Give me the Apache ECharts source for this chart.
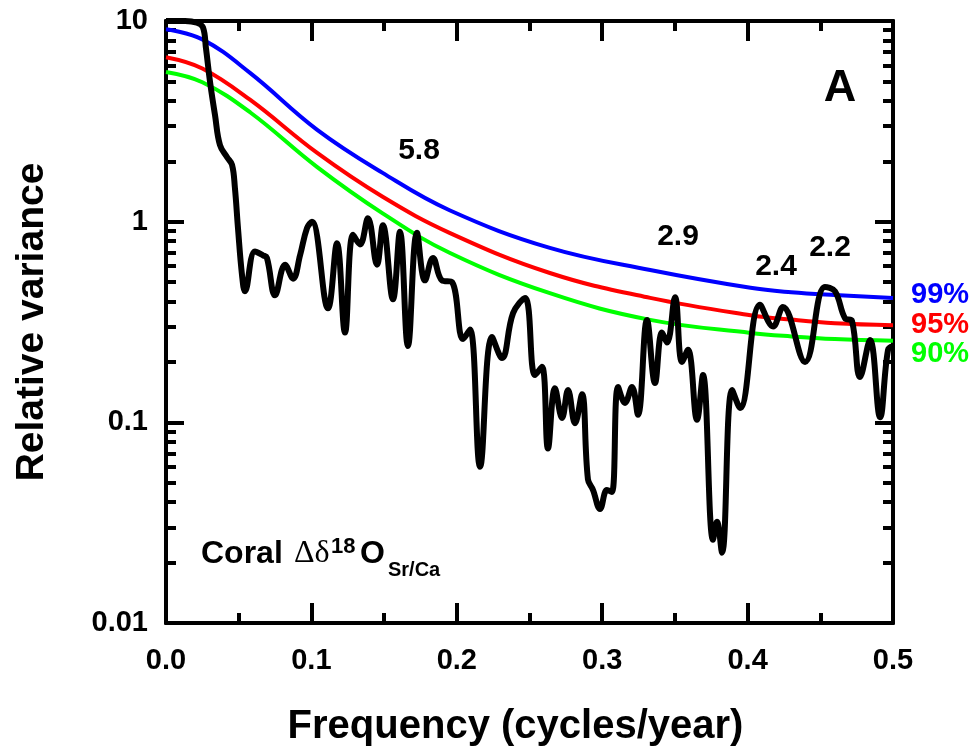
<!DOCTYPE html>
<html>
<head>
<meta charset="utf-8">
<script src="https://cdn.jsdelivr.net/npm/echarts@6.0.0/dist/echarts.min.js"></script>
<style>
    html, body { margin: 0; padding: 0; background: #fff; }
    #chart { width: 979px; height: 756px; }
</style>
</head>
<body>
<div id="chart"></div>
<script>
// spectrum of coral d18O (Sr/Ca residual)
var specFreq = [0, 0.0131, 0.0213, 0.0254, 0.0275, 0.0303, 0.0337, 0.0371, 0.0419, 0.0454,
    0.0474, 0.0495, 0.0523, 0.0543, 0.0612, 0.0667, 0.0694, 0.0750, 0.0819, 0.0874,
    0.0922, 0.0970, 0.1004, 0.1114, 0.1176, 0.1231, 0.1286, 0.1334, 0.1389, 0.1451,
    0.1492, 0.1561, 0.1609, 0.1664, 0.1726, 0.1781, 0.1836, 0.1898, 0.1967, 0.2043,
    0.2091, 0.2160, 0.2242, 0.2311, 0.2387, 0.2469, 0.2538, 0.2586, 0.2627, 0.2675,
    0.2724, 0.2765, 0.2813, 0.2861, 0.2902, 0.2937, 0.2985, 0.3033, 0.3067, 0.3109,
    0.3157, 0.3205, 0.3246, 0.3308, 0.3363, 0.3411, 0.3446, 0.3501, 0.3549, 0.3590,
    0.3652, 0.3693, 0.3762, 0.3789, 0.3824, 0.3893, 0.3948, 0.4085, 0.4175, 0.4243,
    0.4395, 0.4532, 0.4601, 0.4670, 0.4718, 0.4773, 0.4842, 0.4911, 0.4966, 0.5];
var specVar = [10, 10, 9.8, 9.3, 7.3, 4.96, 3.4, 2.41, 2.1, 1.92,
    1.47, 0.93, 0.54, 0.45, 0.71, 0.68, 0.66, 0.43, 0.61, 0.52,
    0.68, 0.93, 1.0, 0.37, 0.78, 0.28, 0.86, 0.77, 1.04, 0.61,
    0.96, 0.41, 0.89, 0.24, 0.88, 0.51, 0.66, 0.51, 0.50, 0.26,
    0.29, 0.060, 0.266, 0.209, 0.35, 0.417, 0.172, 0.189, 0.074, 0.148,
    0.105, 0.145, 0.099, 0.138, 0.052, 0.046, 0.037, 0.046, 0.045, 0.15,
    0.125, 0.15, 0.109, 0.324, 0.157, 0.28, 0.25, 0.42, 0.20, 0.23,
    0.103, 0.172, 0.026, 0.032, 0.0224, 0.145, 0.118, 0.385, 0.30, 0.376,
    0.20, 0.473, 0.45, 0.33, 0.32, 0.168, 0.257, 0.106, 0.23, 0.24];

// red-noise confidence levels
var levFreq = [0, 0.025, 0.058, 0.104, 0.149, 0.195, 0.264, 0.333, 0.402, 0.43, 0.46, 0.5];
var lev99 = [9.1, 8.1, 5.5, 2.87, 1.75, 1.14, 0.74, 0.574, 0.468, 0.445, 0.431, 0.417];
var lev95 = [6.6, 5.8, 4.04, 2.2, 1.33, 0.88, 0.555, 0.417, 0.342, 0.325, 0.312, 0.305];
var lev90 = [5.57, 4.95, 3.5, 1.87, 1.10, 0.70, 0.44, 0.324, 0.279, 0.268, 0.26, 0.255];

var yMajor = [0.01, 0.1, 1, 10];
var yMinor = [];
[0.01, 0.1, 1].forEach(function (d) {
    for (var k = 2; k <= 9; k++) yMinor.push(+(d * k).toPrecision(2));
});

var periodLabels = [
    { text: "5.8", x: 419, y: 151 },
    { text: "2.9", x: 678, y: 237 },
    { text: "2.4", x: 776, y: 267 },
    { text: "2.2", x: 830, y: 248 }
];

function zip(xs, ys) {
    return xs.map(function (x, i) { return [x, ys[i]]; });
}

var FONT = "Liberation Sans";
var chart = echarts.init(document.getElementById("chart"));

function yAxisDef(pos, ticks, len, withLabel) {
    return {
        type: "log",
        logBase: 10,
        min: 0.01,
        max: 10,
        position: pos,
        gridIndex: 0,
        name: withLabel ? "Relative variance" : "",
        nameLocation: "middle",
        nameGap: 114,
        nameTextStyle: { fontFamily: FONT, fontWeight: "bold", fontSize: 39, color: "#000" },
        axisLine: { show: true, lineStyle: { color: "#000", width: 4 } },
        axisTick: { show: true, inside: true, length: len, customValues: ticks,
            lineStyle: { color: "#000", width: 4 } },
        axisLabel: { show: withLabel, customValues: yMajor, margin: 18,
            fontFamily: FONT, fontWeight: "bold", fontSize: 29, color: "#000",
            formatter: function (v) { return String(v); } },
        splitLine: { show: false }
    };
}

function xAxisDef(pos, withLabel) {
    return {
        type: "value",
        min: 0,
        max: 0.5,
        interval: 0.1,
        position: pos,
        name: withLabel ? "Frequency (cycles/year)" : "",
        nameLocation: "middle",
        nameGap: 84,
        nameTextStyle: { fontFamily: FONT, fontWeight: "bold", fontSize: 40, color: "#000",
            padding: [0, 28, 0, 0] },
        axisLine: { show: true, lineStyle: { color: "#000", width: 4 } },
        axisTick: { show: true, inside: true, length: 20, lineStyle: { color: "#000", width: 4 } },
        minorTick: { show: true, splitNumber: 2, length: 10, lineStyle: { color: "#000", width: 4 } },
        axisLabel: { show: withLabel, margin: 23, fontFamily: FONT, fontWeight: "bold",
            fontSize: 29, color: "#000", formatter: function (v) { return v.toFixed(1); } },
        splitLine: { show: false },
        minorSplitLine: { show: false }
    };
}

function lineSeries(data, color, width, z) {
    return {
        type: "line",
        xAxisIndex: 0,
        yAxisIndex: 0,
        data: data,
        smooth: 0.4,
        showSymbol: false,
        z: z,
        lineStyle: { color: color, width: width },
        animation: false
    };
}

var graphics = periodLabels.map(function (p) {
    return {
        type: "text",
        style: { text: p.text, x: p.x, y: p.y, align: "center", verticalAlign: "middle",
            font: "bold 30px " + FONT, fill: "#000" }
    };
});
graphics.push(
    { type: "text", style: { text: "A", x: 840, y: 89, align: "center", verticalAlign: "middle",
        font: "bold 45px " + FONT, fill: "#000" } },
    { type: "text", style: { text: "99%", x: 911, y: 295, verticalAlign: "middle",
        font: "bold 29px " + FONT, fill: "#0000ff" } },
    { type: "text", style: { text: "95%", x: 911, y: 325, verticalAlign: "middle",
        font: "bold 29px " + FONT, fill: "#ff0000" } },
    { type: "text", style: { text: "90%", x: 911, y: 354, verticalAlign: "middle",
        font: "bold 29px " + FONT, fill: "#00ff00" } },
    { type: "text", style: { text: "Coral", x: 201, y: 554, verticalAlign: "middle",
        font: "bold 32px " + FONT, fill: "#000" } },
    { type: "text", style: { text: "\u0394\u03b4", x: 294, y: 554, verticalAlign: "middle",
        font: "32px 'Liberation Serif'", fill: "#000" } },
    { type: "text", style: { text: "18", x: 331, y: 547, verticalAlign: "middle",
        font: "bold 22px " + FONT, fill: "#000" } },
    { type: "text", style: { text: "O", x: 360, y: 554, verticalAlign: "middle",
        font: "bold 32px " + FONT, fill: "#000" } },
    { type: "text", style: { text: "Sr/Ca", x: 388, y: 570, verticalAlign: "middle",
        font: "bold 20px " + FONT, fill: "#000" } }
);

chart.setOption({
    backgroundColor: "#fff",
    animation: false,
    grid: { left: 166, top: 21, right: 86, bottom: 133 },
    xAxis: [xAxisDef("bottom", true), xAxisDef("top", false)],
    yAxis: [
        yAxisDef("left", yMajor, 18, true),
        yAxisDef("left", yMinor, 10, false),
        yAxisDef("right", yMajor, 18, false),
        yAxisDef("right", yMinor, 10, false)
    ],
    series: [
        lineSeries(zip(levFreq, lev90), "#00ff00", 4, 2),
        lineSeries(zip(levFreq, lev95), "#ff0000", 4, 2),
        lineSeries(zip(levFreq, lev99), "#0000ff", 4, 2),
        lineSeries(zip(specFreq, specVar), "#000", 6, 3)
    ],
    graphic: graphics
});
</script>
</body>
</html>
